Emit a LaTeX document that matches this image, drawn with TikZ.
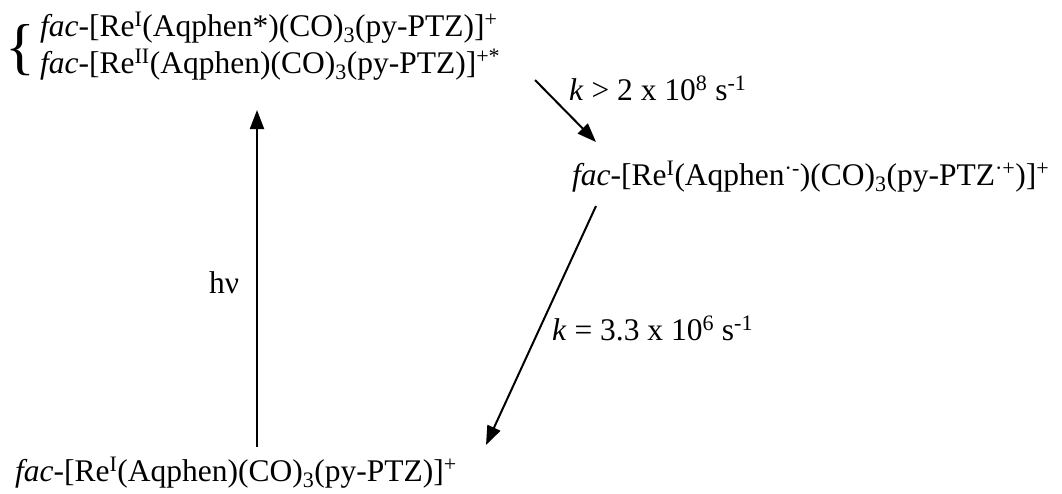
\documentclass[tikz,border=0pt]{standalone}
\usepackage{fontspec}
\setmainfont{Liberation Serif}
\usetikzlibrary{arrows.meta}
\definecolor{inkblack}{RGB}{0,0,0}
\tikzset{
  species/.style={anchor=base west,inner sep=0pt,text=inkblack,
                  font=\fontsize{31.5}{37}\selectfont},
  ratelabel/.style={species},
  reaction/.style={draw=inkblack,line width=2pt,
                   -{Triangle[length=19pt,width=14pt]}}
}
\newcommand{\fac}{\textit{fac}-}
\newcommand{\ReOx}[1]{Re\textsuperscript{#1}}
\newcommand{\COthree}{(CO)\textsubscript{3}}

\begin{document}
\begin{tikzpicture}[x=1pt,y=-1pt]
        \useasboundingbox (0,0) rectangle (1062,493);
        \node[species] (exc1) at (40,36)
          {\fac[\ReOx{I}(Aqphen*)\COthree(py-PTZ)]\textsuperscript{+}};
        \node[species] (exc2) at (40,73)
          {\fac[\ReOx{II}(Aqphen)\COthree(py-PTZ)]\textsuperscript{+*}};
        \node[inner sep=0pt,font=\fontsize{62}{62}\selectfont] (brace) at (20,50) {\{};
        \node[species] (rad) at (572,185)
          {\fac[\ReOx{I}(Aqphen\textsuperscript{·-})\COthree(py-PTZ\textsuperscript{·+})]\textsuperscript{+}};
        \node[species] (ground) at (15,481)
          {\fac[\ReOx{I}(Aqphen)\COthree(py-PTZ)]\textsuperscript{+}};
        \node[ratelabel] (kfwd) at (569,100)
          {\textit{k} > 2 x 10\textsuperscript{8} s\textsuperscript{-1}};
        \node[ratelabel] (kback) at (552,340)
          {\textit{k} = 3.3 x 10\textsuperscript{6} s\textsuperscript{-1}};
        \node[ratelabel] (hv) at (209,293) {hν};
        \draw[reaction] ([shift={(495,7)}]exc2.base west) -- ([shift={(24,-43)}]rad.base west);
        \draw[reaction] ([shift={(24,21)}]rad.base west) -- ([shift={(471,-36)}]ground.base west);
        \draw[reaction] ([shift={(242,-34)}]ground.base west) -- ([shift={(217,37)}]exc2.base west);
      \end{tikzpicture}
\end{document}
